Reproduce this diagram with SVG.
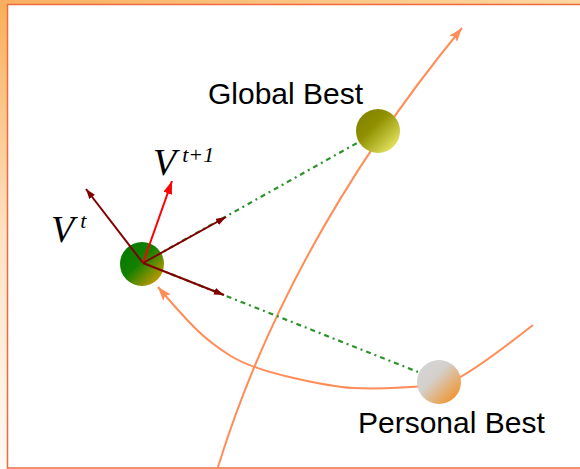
<svg xmlns="http://www.w3.org/2000/svg" width="580" height="469" viewBox="0 0 580 469">
<style>
.lbl{font-family:"Liberation Sans",Arial,sans-serif;font-size:30px;fill:#000}
.v{font-family:"Liberation Serif","Times New Roman",serif;font-style:italic;fill:#000}
.dr{stroke:#800000;stroke-width:2;fill:none}
.orange{stroke:#ff8d58;stroke-width:2;fill:none}
.dot{stroke:#2a922a;stroke-width:2.2;fill:none;stroke-dasharray:5 4 2 4}
</style>
<defs>
<linearGradient id="leftbg" x1="0" y1="0" x2="0" y2="1">
<stop offset="0" stop-color="#f8ae58"/>
<stop offset="0.5" stop-color="#fde2c4"/>
<stop offset="1" stop-color="#fffaf4"/>
</linearGradient>
<linearGradient id="topbg" x1="0" y1="0" x2="1" y2="0">
<stop offset="0" stop-color="#f8b060"/>
<stop offset="1" stop-color="#fcd7a2"/>
</linearGradient>
<linearGradient id="gPart" x1="0" y1="0" x2="1" y2="1">
<stop offset="0" stop-color="#007a00"/>
<stop offset="0.45" stop-color="#148000"/>
<stop offset="1" stop-color="#f5a000"/>
</linearGradient>
<linearGradient id="gGlobal" x1="0" y1="0" x2="1" y2="1">
<stop offset="0" stop-color="#7e7e00"/>
<stop offset="0.4" stop-color="#909000"/>
<stop offset="1" stop-color="#fafa7a"/>
</linearGradient>
<linearGradient id="gPersonal" x1="0" y1="0" x2="1" y2="1">
<stop offset="0" stop-color="#d6d6d6"/>
<stop offset="0.4" stop-color="#d4d0cc"/>
<stop offset="1" stop-color="#f8860a"/>
</linearGradient>
<marker id="mDR" viewBox="0 0 10 7" refX="10" refY="3.5" markerWidth="10" markerHeight="7" markerUnits="userSpaceOnUse" orient="auto">
<path d="M0,0 L10,3.5 L0,7 z" fill="#800000"/>
</marker>
<marker id="mR" viewBox="0 0 13 9" refX="13" refY="4.5" markerWidth="13" markerHeight="9" markerUnits="userSpaceOnUse" orient="auto">
<path d="M0,0 L13,4.5 L0,9 z" fill="#ff0000"/>
</marker>
<marker id="mO" viewBox="0 0 14 10" refX="14" refY="5" markerWidth="14" markerHeight="10" markerUnits="userSpaceOnUse" orient="auto">
<path d="M0,0 L14,5 L0,10 L3,5 z" fill="#ff8d58"/>
</marker>
</defs>

<g id="frame">
<rect x="0" y="0" width="580" height="469" fill="url(#leftbg)"/>
<rect x="0" y="0" width="580" height="5" fill="url(#topbg)"/>
<rect x="7.5" y="4.5" width="580" height="463.5" fill="#ffffff" stroke="#ef6a3c" stroke-width="1.5"/>
</g>

<g id="connectors">
<path class="orange" d="M218,467 Q288.5,239.6 462,28" marker-end="url(#mO)"/>
<path class="orange" d="M533,325 Q463,380 446.5,383 Q430,386 401.5,387.5 Q373,389 353,388 Q333,387 291.5,377.5 Q250,368 230,355.5 Q210,343 195,328 Q180,313 158,287" marker-end="url(#mO)"/>
<path class="dot" d="M143,263 L357,143"/>
<path class="dot" d="M143,263 L418,372"/>
</g>

<g id="global-best">
<circle cx="378" cy="131" r="22" fill="url(#gGlobal)"/>
<text class="lbl" x="208" y="104">Global Best</text>
</g>

<g id="personal-best">
<circle cx="439" cy="382" r="22" fill="url(#gPersonal)"/>
<text class="lbl" x="358" y="433">Personal Best</text>
</g>

<g id="particle">
<circle cx="142" cy="264" r="22" fill="url(#gPart)"/>
</g>

<g id="velocities">
<line class="dr" x1="143" y1="263" x2="86" y2="189" marker-end="url(#mDR)"/>
<line x1="143" y1="263" x2="172" y2="181" stroke="#ff0000" stroke-width="2" marker-end="url(#mR)"/>
<line class="dr" x1="143" y1="263" x2="226" y2="217" marker-end="url(#mDR)"/>
<line class="dr" x1="143" y1="263" x2="224" y2="295" marker-end="url(#mDR)"/>
<text class="v" x="153" y="175" font-size="38">V<tspan font-size="22" dx="6" dy="-13">t+1</tspan></text>
<text class="v" x="51" y="242" font-size="38">V<tspan font-size="22" dx="6" dy="-14">t</tspan></text>
</g>
</svg>
